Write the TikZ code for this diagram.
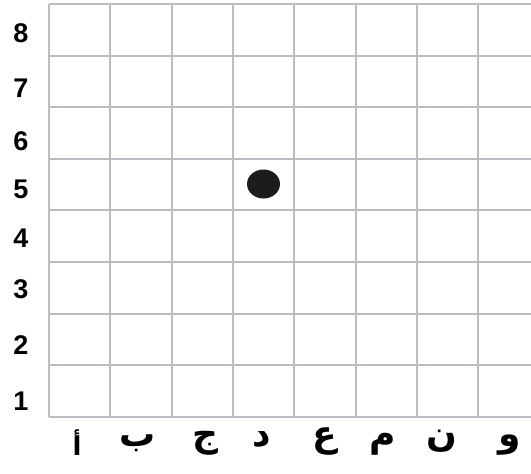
\documentclass[tikz,border=0pt]{standalone}
\usepackage{fontspec}
\setmainfont{Liberation Sans}
\newfontfamily\arabicfont[Script=Arabic]{DejaVu Sans}
\TeXXeTstate=1
\definecolor{gridgray}{RGB}{188,188,194}
\definecolor{dotblack}{RGB}{28,28,28}
\tikzset{
  gridline/.style={draw=gridgray, line width=2pt},
  rowlabel/.style={font=\fontsize{27}{27}\selectfont\bfseries, inner sep=0pt, text=black},
  collabel/.style={font=\arabicfont\bfseries\fontsize{36}{36}\selectfont, inner sep=0pt, text=black, anchor=base},
  alefstyle/.style={font=\arabicfont\bfseries\fontsize{26}{26}\selectfont, inner sep=0pt, text=black, anchor=base},
}
\begin{document}
\begin{tikzpicture}[x=1pt,y=-1pt]
\useasboundingbox (0,0) rectangle (531,474);
\clip (0,0) rectangle (531,474);
% horizontal lines
\foreach \i in {0,...,8} {
  \draw[gridline] (49,{4+51.6*\i}) -- (545,{4+51.6*\i});
}
% vertical lines
\foreach \j in {0,...,8} {
  \draw[gridline] ({49+61.3*\j},4) -- ({49+61.3*\j},416.8);
}
% dot
\fill[dotblack] (263.5,184) ellipse [x radius=16.5, y radius=14.5];
% row labels
\node[rowlabel] (r8) at (21,33) {8};
\node[rowlabel] (r7) at (21,88) {7};
\node[rowlabel] (r6) at (21,141) {6};
\node[rowlabel] (r5) at (21,189) {5};
\node[rowlabel] (r4) at (21,238) {4};
\node[rowlabel] (r3) at (21,289) {3};
\node[rowlabel] (r2) at (21,345) {2};
\node[rowlabel] (r1) at (21,401) {1};
% column labels
\node[alefstyle] (c1) at (77,455) {\beginR أ\endR};
\node[collabel] (c2) at (138,446) {\beginR ب\endR};
\node[collabel] (c3) at (205,446) {\beginR ج\endR};
\node[collabel] (c4) at (262,446) {\beginR د\endR};
\node[collabel] (c5) at (325,446) {\beginR ع\endR};
\node[collabel] (c6) at (383,446) {\beginR م\endR};
\node[collabel] (c7) at (442,446) {\beginR ن\endR};
\node[collabel] (c8) at (510,446) {\beginR و\endR};
\end{tikzpicture}
\end{document}
